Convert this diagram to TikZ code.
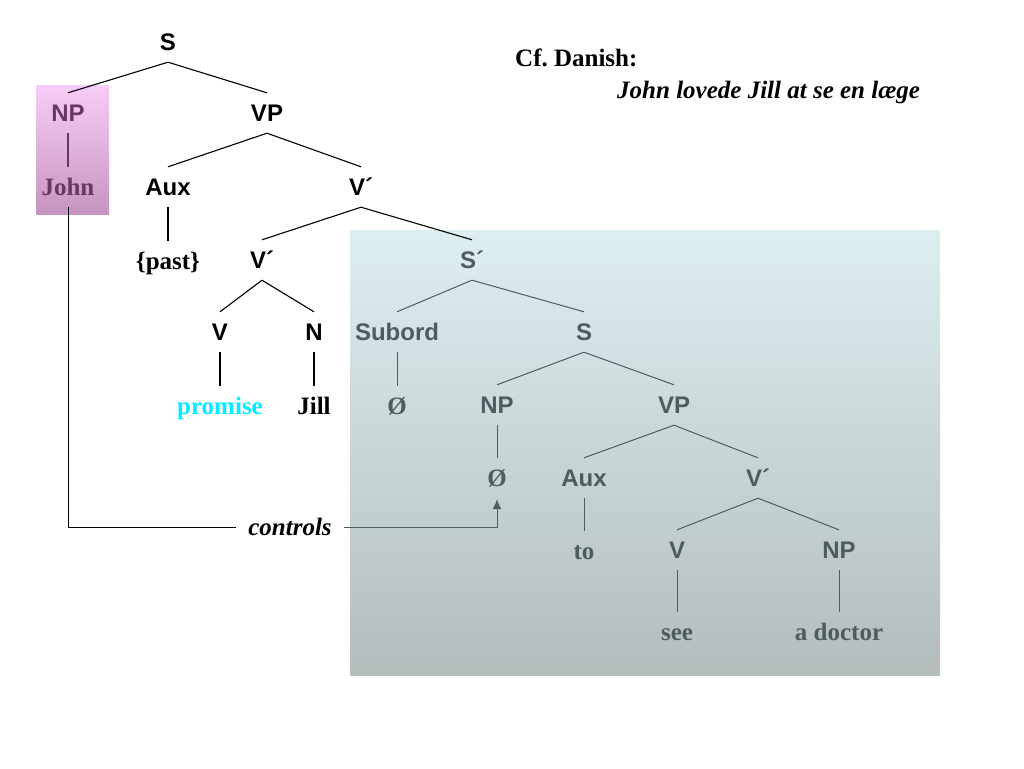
\documentclass[tikz,border=0pt]{standalone}
\usepackage{fontspec}
\setmainfont{Liberation Serif}
\setsansfont{Liberation Sans}
\usetikzlibrary{arrows.meta}
\definecolor{boxtext}{RGB}{78,92,96}
\definecolor{npcolor}{RGB}{104,56,98}
\definecolor{promisecolor}{RGB}{0,238,255}

\begin{document}
\begin{tikzpicture}[
    x=1pt, y=-1pt,
    every node/.style={inner sep=0pt, minimum height=40pt,
                       text height=19pt, text depth=2pt},
    cat/.style={font=\fontsize{24}{28}\selectfont\sffamily\bfseries},
    word/.style={font=\fontsize{25}{29}\selectfont\rmfamily\bfseries},
    inbox/.style={text=boxtext},
    branch/.style={line width=1.1pt},
    inbranch/.style={line width=1pt, draw=boxtext}
]
\useasboundingbox (0,0) rectangle (1024,768);

% shaded backgrounds
\shade[top color={rgb,255:red,221;green,238;blue,241},
       bottom color={rgb,255:red,180;green,188;blue,188}]
    (350,230) rectangle (940,675);
\shade[top color={rgb,255:red,248;green,204;blue,248},
       bottom color={rgb,255:red,198;green,148;blue,190}]
    (36,85) rectangle (109,214);

% main clause
\node[cat] (s0) at (168,42) {S};
\node[cat, text=npcolor] (np0) at (68,113) {NP};
\node[cat] (vp0) at (267,113) {VP};
\node[word, text=npcolor] (john) at (68,187) {John};
\node[cat] (aux0) at (168,187) {Aux};
\node[cat] (vbar0) at (361,187) {V´};
\node[word] (past) at (168,261) {\{past\}};
\node[cat] (vbar1) at (262,260) {V´};
\node[cat] (v0) at (220,332) {V};
\node[cat] (n0) at (314,332) {N};
\node[word, text=promisecolor] (promise) at (220,406) {promise};
\node[word] (jill) at (314,406) {Jill};

% embedded clause
\node[cat, inbox] (sbar) at (472,260) {S´};
\node[cat, inbox] (subord) at (397,332) {Subord};
\node[cat, inbox] (s1) at (584,332) {S};
\node[word, inbox] (empty0) at (397,406) {Ø};
\node[cat, inbox] (np1) at (497,405) {NP};
\node[cat, inbox] (vp1) at (674,405) {VP};
\node[word, inbox] (empty1) at (497,478) {Ø};
\node[cat, inbox] (aux1) at (584,478) {Aux};
\node[cat, inbox] (vbar2) at (758,478) {V´};
\node[word, inbox] (to) at (584,551) {to};
\node[cat, inbox] (v1) at (677,550) {V};
\node[cat, inbox] (np2) at (839,550) {NP};
\node[word, inbox] (see) at (677,632) {see};
\node[word, inbox] (doctor) at (839,632) {a doctor};

% notes
\node[word, anchor=west] (cfnote) at (515,58) {Cf.\ Danish:};
\node[word, anchor=west] (danish) at (617,90) {\itshape John lovede Jill at se en læge};
\node[word, inner xsep=12pt] (controls) at (290,527) {\itshape controls};

% branches
\draw[branch] (s0.south) -- (np0.north);
\draw[branch] (s0.south) -- (vp0.north);
\draw[branch, draw=npcolor] (np0.south) -- (john.north);
\draw[branch] (vp0.south) -- (aux0.north);
\draw[branch] (vp0.south) -- (vbar0.north);
\draw[branch] (aux0.south) -- (past.north);
\draw[branch] (vbar0.south) -- (vbar1.north);
\draw[branch] (vbar0.south) -- (sbar.north);
\draw[branch] (vbar1.south) -- (v0.north);
\draw[branch] (vbar1.south) -- (n0.north);
\draw[branch] (v0.south) -- (promise.north);
\draw[branch] (n0.south) -- (jill.north);

\draw[inbranch] (sbar.south) -- (subord.north);
\draw[inbranch] (sbar.south) -- (s1.north);
\draw[inbranch] (subord.south) -- (empty0.north);
\draw[inbranch] (s1.south) -- (np1.north);
\draw[inbranch] (s1.south) -- (vp1.north);
\draw[inbranch] (np1.south) -- (empty1.north);
\draw[inbranch] (vp1.south) -- (aux1.north);
\draw[inbranch] (vp1.south) -- (vbar2.north);
\draw[inbranch] (aux1.south) -- (to.north);
\draw[inbranch] (vbar2.south) -- (v1.north);
\draw[inbranch] (vbar2.south) -- (np2.north);
\draw[inbranch] (v1.south) -- (see.north);
\draw[inbranch] (np2.south) -- (doctor.north);

% control link
\draw[line width=1pt] (john.south) |- (controls.west);
\draw[line width=1pt, draw=boxtext, -{Latex[length=10pt,width=9pt]}]
    (controls.east) -| ([yshift=-1pt]empty1.south);
\end{tikzpicture}
\end{document}
